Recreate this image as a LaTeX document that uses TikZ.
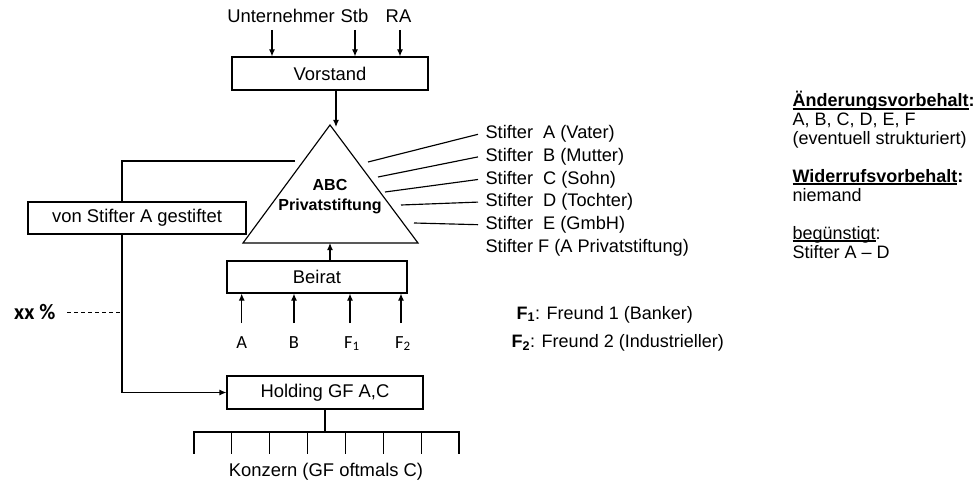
\documentclass[tikz,border=0pt]{standalone}
\usepackage{fontspec}
\setmainfont{Liberation Sans}
\newfontfamily\calfont{Carlito}
\usetikzlibrary{arrows.meta}
% underline drawn just below the baseline, through the descenders
\newcommand\undl[1]{\setbox0\hbox{#1}\rlap{\rule[-2.6pt]{\wd0}{1.3pt}}\box0}
\begin{document}
\begin{tikzpicture}[x=1pt,y=-1pt,
  line width=1.15pt,
  >={Latex[length=7pt,width=6pt]},
  box/.style={draw, line width=1.15pt, inner sep=0pt,
    font=\fontsize{18.4}{20}\selectfont},
  lbl/.style={inner sep=0pt, font=\fontsize{18.4}{20}\selectfont},
  side/.style={inner sep=0pt, align=left, anchor=base west,
    font=\fontsize{18}{19}\selectfont},
  stifter/.style={inner xsep=7pt, inner ysep=0pt, anchor=base west,
    font=\fontsize{18.2}{20}\selectfont},
  calib/.style={inner sep=0pt, anchor=base, font=\calfont\fontsize{18.5}{20}\selectfont},
]
\useasboundingbox (0,0) rectangle (980,484);

% --- top: advisers and board ---
\node[lbl, anchor=base] (un)  at (281,23) {Unternehmer};
\node[lbl, anchor=base] (stb) at (354.5,23) {Stb};
\node[lbl, anchor=base] (ra)  at (398.5,23) {RA};
\node[box, minimum width=196pt, minimum height=33pt] (vor) at (330,73.5) {Vorstand};
\coordinate (uA) at (272,30);
\coordinate (uB) at (355,30);
\coordinate (uC) at (400,30);
\draw[->] (uA) -- (uA |- vor.north);
\draw[->] (uB) -- (uB |- vor.north);
\draw[->] (uC) -- (uC |- vor.north);

% --- foundation triangle ---
\coordinate (apex) at (330,125);
\coordinate (bl) at (243,243);
\coordinate (br) at (418,243);
\draw[line join=miter] (apex) -- (br) -- (bl) -- cycle;
\node[align=center, inner sep=0pt, font=\bfseries\fontsize{16}{20}\selectfont]
  (abc) at (330,197) {ABC\\Privatstiftung};
\coordinate (vin) at (336,127);
\draw[->] (vor.south -| vin) -- (vin);

% --- founders ---
\node[stifter] (sA) at (478,139.0) {Stifter\ \ A (Vater)};
\node[stifter] (sB) at (478,161.6) {Stifter\ \ B (Mutter)};
\node[stifter] (sC) at (478,184.2) {Stifter\ \ C (Sohn)};
\node[stifter] (sD) at (478,206.8) {Stifter\ \ D (Tochter)};
\node[stifter] (sE) at (478,229.4) {Stifter\ \ E (GmbH)};
\node[stifter] (sF) at (478,252.0) {Stifter F (A Privatstiftung)};
\coordinate (tA) at (368,162);
\coordinate (tB) at (378,177);
\coordinate (tC) at (385,192);
\coordinate (tD) at (401,205);
\coordinate (tE) at (414,223);
\draw (tA) -- (sA.west);
\draw (tB) -- (sB.west);
\draw (tC) -- (sC.west);
\draw (tD) -- (sD.west);
\draw (tE) -- (sE.west);

% --- advisory board ---
\node[box, minimum width=180pt, minimum height=32pt] (bei) at (317,277) {Beirat};
\coordinate (bin) at (330,243);
\draw[->] (bei.north -| bin) -- (bin);
\node[calib] (mA)  at (241.7,348) {A};
\node[calib] (mB)  at (294,348) {B};
\node[calib] (mF1) at (352,348) {F\textsubscript{1}};
\node[calib] (mF2) at (403,348) {F\textsubscript{2}};
\coordinate (aA)  at (241.7,323);
\coordinate (aB)  at (294,323);
\coordinate (aF1) at (350,323);
\coordinate (aF2) at (401,323);
\draw[->] (aA)  -- (aA  |- bei.south);
\draw[->] (aB)  -- (aB  |- bei.south);
\draw[->] (aF1) -- (aF1 |- bei.south);
\draw[->] (aF2) -- (aF2 |- bei.south);
\node[side] (f1) at (516,319) {\textbf{F\textsubscript{1}}: Freund 1 (Banker)};
\node[side] (f2) at (511,347.5) {\textbf{F\textsubscript{2}}: Freund 2 (Industrieller)};

% --- holding path on the left ---
\coordinate (lt) at (295,161);
\coordinate (lx) at (122,0);
\node[box, minimum width=218pt, minimum height=32pt] (von) at (137,218) {von Stifter A gestiftet};
\node[box, minimum width=196pt, minimum height=33pt] (hold) at (325,392.5) {Holding GF A,C};
\draw (lt) -| (lx |- von.north);
\draw[->] (lx |- von.south) |- (hold.west);
\node[inner sep=0pt, anchor=base east, font=\calfont\bfseries\fontsize{22}{24}\selectfont]
  (xx) at (56,319) {xx \%};
\draw[dashed, dash pattern=on 4pt off 3pt, line width=1pt] (67,312.3) coordinate (dx) -- (dx -| lx);

% --- group companies ---
\coordinate (tj) at (325,432);
\draw (hold.south) -- (tj);
\draw (194,432) coordinate (t0) -- (459,432) coordinate (t7);
\foreach \i in {0,...,7} {
  \draw ({194+37.857*\i},431.4) -- ({194+37.857*\i},454);
}
\node[lbl] (kon) at (326,472) {Konzern (GF oftmals C)};

% --- reservations (base = last line) ---
\node[side] (aend) at (792,145)
  {\textbf{\undl{Änderungsvorbehalt}:}\\A, B, C, D, E, F\\(eventuell strukturiert)};
\node[side] (wid) at (792,201)
  {\textbf{\undl{Widerrufsvorbehalt}:}\\niemand};
\node[side] (beg) at (792,258)
  {\undl{begünstigt}:\\Stifter A -- D};
\end{tikzpicture}
\end{document}
